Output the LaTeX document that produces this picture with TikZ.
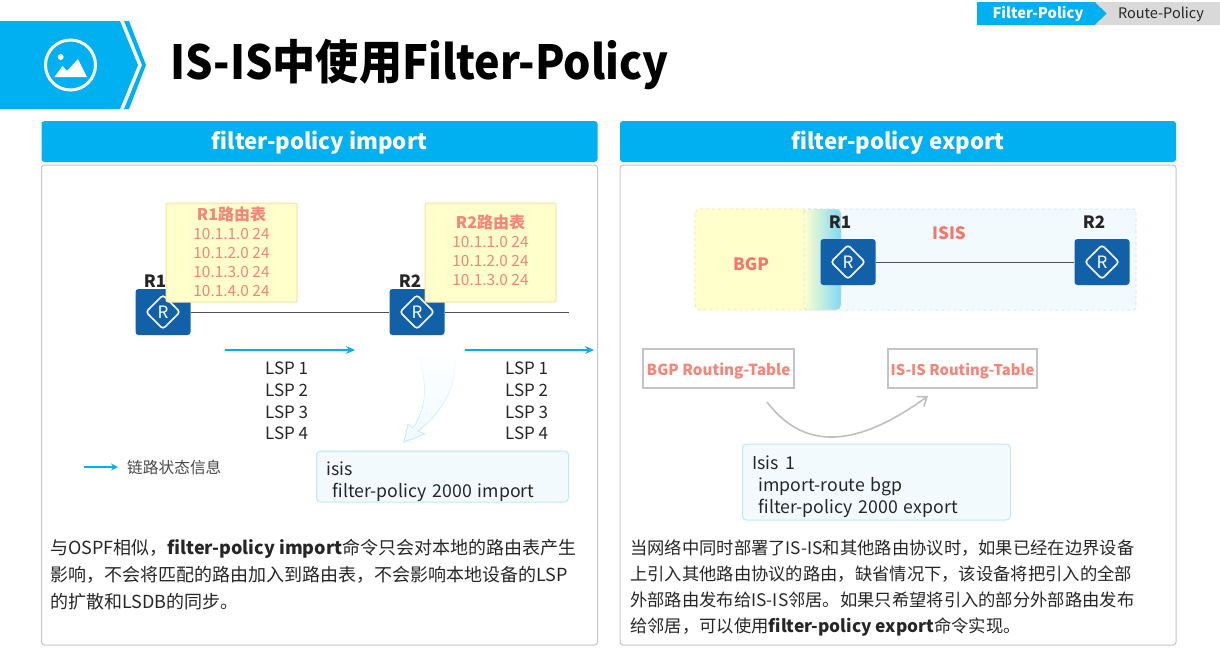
\documentclass[tikz,border=0pt]{standalone}
\usepackage{fontspec}
\setmainfont{Noto Sans CJK SC}
\usetikzlibrary{positioning,arrows.meta,fadings}
\definecolor{barblue}{HTML}{00B0F0}
\definecolor{routerblue}{HTML}{1160A8}
\definecolor{tablefill}{HTML}{FFFFCC}
\definecolor{tableline}{HTML}{FFDDA0}
\definecolor{isisfill}{HTML}{F2FAFE}
\definecolor{isisline}{HTML}{BDE8FB}
\definecolor{salmon}{HTML}{F4766A}
\definecolor{panelline}{HTML}{C4C4C4}
\definecolor{inktext}{HTML}{262626}
\newcommand{\cfgtop}{\rule{0pt}{23.5pt}}

\begin{document}
\begin{tikzpicture}[
  x=1pt, y=-1pt,
  every node/.style={text=inktext, inner sep=0pt},
  bar/.style={fill=barblue, rounded corners=3pt, minimum width=556pt, minimum height=41pt, text=white, text height=15pt, text depth=0pt, font={\fontsize{22.2}{26}\selectfont\bfseries}},
  panel/.style={draw=panelline, line width=1pt, rounded corners=3pt, minimum width=556pt, minimum height=480pt},
  router/.style={fill=routerblue, rounded corners=3pt, minimum width=55pt, minimum height=46pt, text=white, font={\fontsize{17}{20}\selectfont},
    path picture={\draw[white, line width=1.6pt] ([xshift=-17pt]path picture bounding box.center)--([yshift=17pt]path picture bounding box.center)--([xshift=17pt]path picture bounding box.center)--([yshift=-17pt]path picture bounding box.center)--cycle;}},
  rname/.style={font={\fontsize{17}{20}\selectfont\bfseries}},
  rtable/.style={draw=tableline, fill=tablefill, line width=1pt, rounded corners=2pt, minimum width=131pt, minimum height=99pt, align=center, text=salmon!90, font={\fontsize{15.4}{19}\selectfont}},
  lsp/.style={align=left, anchor=north west, font={\fontsize{17}{21.7}\selectfont}},
  lsparrow/.style={-{Stealth[length=9pt,width=8pt]}, barblue, line width=2.2pt},
  cfg/.style={draw=isisline, fill=isisfill, line width=1pt, rounded corners=4pt, align=left, anchor=west, inner xsep=10pt, font={\fontsize{17.7}{22}\selectfont}},
  rtbox/.style={draw=panelline, line width=1.4pt, minimum height=39pt, text=salmon!90, text height=14pt, text depth=0pt},
  para/.style={align=left, anchor=north west}
]
\useasboundingbox (0,0) rectangle (1220,657);
% head
\fill[barblue] (0,21)--(120,21)--(138,65)--(120,109)--(0,109)--cycle;
\fill[barblue] (124,21)--(129,21)--(146,65)--(129,109)--(124,109)--(142,65)--cycle;
\draw[white, line width=3pt] (70.5,65) circle (25pt);
\fill[white] (60.7,57) circle (3pt);
\fill[white] (54.5,77)--(62.5,66)--(67,71)--(78,59)--(87,77)--cycle;
\node[anchor=west, xscale=.917, transform shape, font={\fontsize{47}{52}\selectfont\bfseries}, text=black](title) at (170,64){IS-IS中使用Filter-Policy};
\fill[barblue] (977,2)--(1095,2)--(1107,13.5)--(1095,25)--(977,25)--cycle;
\fill[gray!30] (1095,2)--(1220,2)--(1220,25)--(1095,25)--(1107,13.5)--cycle;
\node[text=white, font={\fontsize{14.7}{17}\selectfont\bfseries}](tabfilter) at (1038,14){Filter-Policy};
\node[font={\fontsize{14.5}{17}\selectfont}](tabroute) at (1161,14){Route-Policy};
% panels
\node[bar](barimport) at (319.5,141.5){filter-policy import};
\node[bar](barexport) at (898,141.5){filter-policy export};
\node[panel](panelimport) at (319.5,405){};
\node[panel](panelexport) at (898,405){};

% left side
\node[router](leftrone) at (163,312){R};
\node[router](leftrtwo) at (417,312){R};
\coordinate (lineend) at (569,312);
\draw[inktext!80, line width=.8pt] (leftrone)--(leftrtwo);
\draw[inktext!80, line width=.8pt] (leftrtwo)--(lineend);
\node[rname](lnameone) at (155,281){R1};
\node[rname](lnametwo) at (410,281){R2};
\node[rtable](tableone) at (231.5,252.5){{\fontsize{16}{19}\selectfont\bfseries R1路由表}\\10.1.1.0 24\\10.1.2.0 24\\10.1.3.0 24\\10.1.4.0 24\rule[-2pt]{0pt}{1pt}};
\node[rtable](tabletwo) at (490.5,252.5){{\fontsize{16}{19}\selectfont\bfseries R2路由表}\\10.1.1.0 24\\10.1.2.0 24\\10.1.3.0 24\rule[-4pt]{0pt}{1pt}};
\coordinate (lspa) at (225,350);
\coordinate (lspb) at (355,350);
\coordinate (lspc) at (465,350);
\coordinate (lspd) at (594,350);
\draw[lsparrow] (lspa)--(lspb);
\draw[lsparrow] (lspc)--(lspd);
\node[lsp](lsplista) at (265,362){LSP 1\\LSP 2\\LSP 3\\LSP 4};
\node[lsp](lsplistb) at (505,362){LSP 1\\LSP 2\\LSP 3\\LSP 4};
\coordinate (legenda) at (84,467);
\node[anchor=west, font={\fontsize{15.7}{18}\selectfont}, text=inktext!85](legend) at (127,467){链路状态信息};
\draw[-{Stealth[length=7pt,width=7pt]}, barblue, line width=2pt] (legenda)--(legend.west-|118,467);
% swoosh
\fill[isisline!22, path fading=north] (415,347) .. controls (428,380) and (428,405) .. (413,428)--(408,424)--(404,442)--(425,434)--(418,431) .. controls (445,410) and (456,385) .. (455,360)--cycle;
\draw[isisline, line width=.8pt, path fading=north] (415,347) .. controls (428,380) and (428,405) .. (413,428)--(408,424)--(404,442)--(425,434)--(418,431) .. controls (445,410) and (456,385) .. (455,360);
\node[cfg, minimum width=252pt, minimum height=51pt, text width=232pt](cfgimport) at (316,476.5){\cfgtop isis\\\hspace*{6pt}filter-policy 2000 import};
\node[para, font={\fontsize{18}{27}\selectfont}](paraimport) at (50,539){与OSPF相似，{\bfseries filter-policy import}命令只会对本地的路由表产生\\影响，不会将匹配的路由加入到路由表，不会影响本地设备的LSP\\的扩散和LSDB的同步。};

% right side
\fill[tablefill, rounded corners=5pt] (695,209) rectangle (815,310);
\fill[isisfill, rounded corners=3pt] (825,209) rectangle (1136,310);
\shade[left color=tablefill, right color=barblue!50, rounded corners=5pt] (804,209) rectangle (841,310);
\draw[tableline, line width=.9pt, dashed, rounded corners=5pt] (695,209) rectangle (841,310);
\draw[isisline, line width=.9pt, dashed, rounded corners=3pt] (804,209) rectangle (1136,310);
\node[router](rightrone) at (848,262){R};
\node[router](rightrtwo) at (1102,262){R};
\draw[inktext!80, line width=.8pt] (rightrone)--(rightrtwo);
\node[rname](rnameone) at (840,222){R1};
\node[rname](rnametwo) at (1094,222){R2};
\node[text=salmon, font={\fontsize{17}{20}\selectfont\bfseries}](isisname) at (949,233){ISIS};
\node[text=salmon, font={\fontsize{17}{20}\selectfont\bfseries}](bgpname) at (751,264){BGP};
\node[rtbox, minimum width=151pt, font={\fontsize{15.2}{18}\selectfont\bfseries}](bgptable) at (718.5,368.5){BGP Routing-Table};
\node[rtbox, minimum width=149pt, font={\fontsize{14.8}{18}\selectfont\bfseries}](isistable) at (962.5,368.5){IS-IS Routing-Table};
\coordinate (curvea) at (767,402);
\coordinate (curveb) at (928,396);
\draw[-{Straight Barb[length=8pt,width=12pt]}, gray!50, line width=1.6pt] (curvea) .. controls (800,445) and (848,454) .. (curveb);
\node[cfg, minimum width=268pt, minimum height=76pt, text width=248pt](cfgexport) at (742,482){\cfgtop Isis 1\\\hspace*{6pt}import-route bgp\\\hspace*{6pt}filter-policy 2000 export};
\node[para, font={\fontsize{17.3}{26}\selectfont}](paraexport) at (630,540){当网络中同时部署了IS-IS和其他路由协议时，如果已经在边界设备\\上引入其他路由协议的路由，缺省情况下，该设备将把引入的全部\\外部路由发布给IS-IS邻居。如果只希望将引入的部分外部路由发布\\给邻居，可以使用{\bfseries filter-policy export}命令实现。};
\end{tikzpicture}
\end{document}
